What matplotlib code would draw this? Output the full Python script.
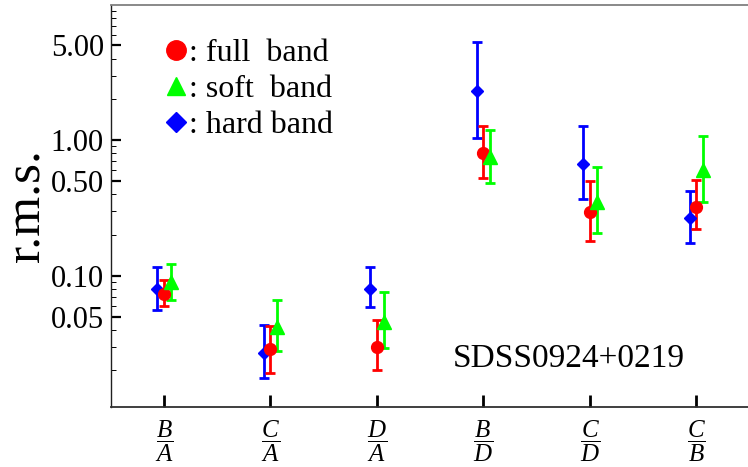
import numpy as np
import matplotlib
matplotlib.use("Agg")
import matplotlib.pyplot as plt
from matplotlib.lines import Line2D

plt.rcParams["font.family"] = ["Liberation Serif", "DejaVu Serif"]
plt.rcParams["mathtext.fontset"] = "custom"
plt.rcParams["mathtext.rm"] = "Liberation Serif"
plt.rcParams["mathtext.it"] = "Liberation Serif:italic"

# ── data ──────────────────────────────────────────────────────────────────────
ratios = [r"$\dfrac{B}{A}$", r"$\dfrac{C}{A}$", r"$\dfrac{D}{A}$",
          r"$\dfrac{B}{D}$", r"$\dfrac{C}{D}$", r"$\dfrac{C}{B}$"]

full_val = [0.0729, 0.0290, 0.0300, 0.798, 0.293, 0.322]
full_lo  = [0.0598, 0.0191, 0.0200, 0.522, 0.181, 0.220]
full_hi  = [0.0930, 0.0426, 0.0472, 1.274, 0.499, 0.507]

soft_val = [0.0903, 0.0421, 0.0458, 0.753, 0.351, 0.601]
soft_lo  = [0.0662, 0.0279, 0.0292, 0.480, 0.205, 0.351]
soft_hi  = [0.1220, 0.0662, 0.0755, 1.185, 0.629, 1.076]

hard_val = [0.0794, 0.0271, 0.0802, 2.31, 0.673, 0.267]
hard_lo  = [0.0559, 0.0176, 0.0591, 1.047, 0.366, 0.175]
hard_hi  = [0.1165, 0.0433, 0.1153, 5.30, 1.274, 0.423]

yticks      = [0.05, 0.1, 0.5, 1.0, 5.0]
ytick_names = ["0.05", "0.10", "0.50", "1.00", "5.00"]

# ── figure ────────────────────────────────────────────────────────────────────
fig = plt.figure(figsize=(7.48, 4.67), dpi=100)
ax = fig.add_axes([0.148, 0.129, 1.0021 - 0.148, 0.861])

x = np.arange(1, len(ratios) + 1)
series = [
    (hard_val, hard_lo, hard_hi, -0.062, "#0000ff", "D", 6.5),
    (full_val, full_lo, full_hi,  0.0,   "#ff0000", "o", 8.5),
    (soft_val, soft_lo, soft_hi,  0.066, "#00ff00", "^", 10.5),
]
for val, lo, hi, dx, color, mk, ms in series:
    val = np.array(val); lo = np.array(lo); hi = np.array(hi)
    ax.errorbar(x + dx, val, yerr=[val - lo, hi - val], fmt=mk, color=color,
                ms=ms, mec=color, elinewidth=2.0, capsize=3.3, capthick=2.0,
                zorder=3)

ax.set_yscale("log")
ax.set_ylim(0.0108, 10.0)
ax.set_xlim(0.5, 6.5)

ax.set_yticks(yticks)
ax.set_yticklabels(ytick_names, fontsize=22)
minor = [m * d for d in (0.01, 0.1, 1.0) for m in range(2, 10) if m != 5]
ax.set_yticks(minor, minor=True)
ax.yaxis.set_minor_formatter(plt.NullFormatter())

ax.set_xticks(x)
ax.set_xticklabels(ratios, fontsize=18)

ax.tick_params(axis="y", which="major", direction="in", length=7, width=1.6,
               pad=5, right=False)
ax.tick_params(axis="y", which="minor", direction="in", length=3.5, width=0.7,
               right=False)
ax.tick_params(axis="x", which="major", direction="in", length=9, width=2.0,
               pad=8, top=False)
ax.tick_params(axis="x", which="minor", bottom=False, top=False)

ax.spines["right"].set_visible(False)
ax.spines["top"].set_color("#808080")
ax.spines["top"].set_linewidth(1.3)
ax.spines["bottom"].set_color("#303030")
ax.spines["bottom"].set_linewidth(1.3)
ax.spines["left"].set_color("#202020")
ax.spines["left"].set_linewidth(1.0)

ax.set_ylabel("r.m.s.", fontsize=37, labelpad=0)

ax.text(0.535, 0.098, "SDSS0924+0219", transform=ax.transAxes, fontsize=24,
        ha="left", va="baseline")

handles = [
    Line2D([], [], ls="none", marker="o", color="#ff0000", ms=14),
    Line2D([], [], ls="none", marker="^", color="#00ff00", ms=13),
    Line2D([], [], ls="none", marker="D", color="#0000ff", ms=10),
]
ax.legend(handles, [": full  band", ": soft  band", ": hard band"],
          loc="upper left", bbox_to_anchor=(0.082, 0.915), frameon=False,
          fontsize=23, handlelength=0.8, handletextpad=0.0,
          labelspacing=0.2, borderpad=0.0, borderaxespad=0.0)

fig.savefig("out.png", dpi=100)
